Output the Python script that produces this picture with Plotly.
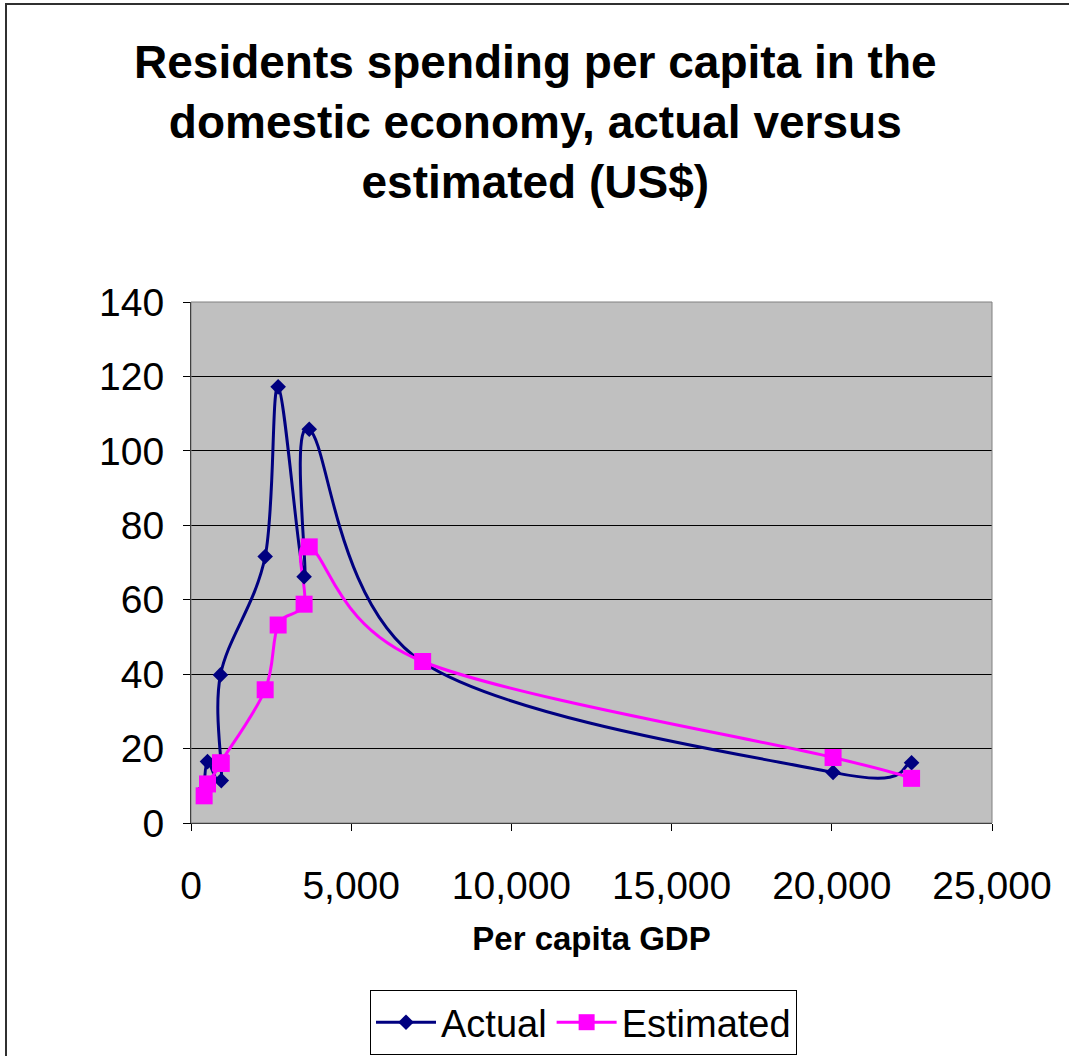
import plotly.graph_objects as go

# Per capita GDP of each economy (US$), shared by both series
gdp = [410, 515, 945, 920, 2315, 2720, 3530, 3690, 7230, 20040, 22490]

# Residents' spending per capita in the domestic economy (US$)
actual = [9.0, 16.5, 11.4, 39.8, 71.6, 117.2, 66.2, 105.8, 43.2, 13.6, 16.2]
estimated = [7.3, 10.5, 16.0, 16.2, 35.8, 53.2, 58.8, 74.2, 43.4, 17.6, 12.0]

x_ticks = [0, 5000, 10000, 15000, 20000, 25000]
y_ticks = [0, 20, 40, 60, 80, 100, 120, 140]

TITLE = "Residents spending per capita in the<br>domestic economy, actual versus<br>estimated (US$)"

FONT = "Arial, Liberation Sans, sans-serif"
NAVY = "#000080"
MAGENTA = "#FF00FF"


def smooth_path(xs, ys):
    """Cubic Bezier path through the points (Catmull-Rom style smoothed line)."""
    pts = list(zip(xs, ys))
    n = len(pts)
    d = f"M {pts[0][0]},{pts[0][1]}"
    for i in range(n - 1):
        p0 = pts[i - 1] if i > 0 else pts[i]
        p1, p2 = pts[i], pts[i + 1]
        p3 = pts[i + 2] if i + 2 < n else pts[i + 1]
        c1 = (p1[0] + (p2[0] - p0[0]) / 6, p1[1] + (p2[1] - p0[1]) / 6)
        c2 = (p2[0] - (p3[0] - p1[0]) / 6, p2[1] - (p3[1] - p1[1]) / 6)
        d += f" C {c1[0]},{c1[1]} {c2[0]},{c2[1]} {p2[0]},{p2[1]}"
    return d


fig = go.Figure()

series = [
    ("Actual", actual, NAVY, "diamond", 12),
    ("Estimated", estimated, MAGENTA, "square", 17),
]

shapes = []
for name, values, color, symbol, size in series:
    shapes.append(dict(type="path", xref="x", yref="y", path=smooth_path(gdp, values),
                       line=dict(color=color, width=3), layer="between"))
    fig.add_trace(go.Scatter(
        x=gdp, y=values, name=name, mode="markers", showlegend=False,
        marker=dict(symbol=symbol, size=size, color=color),
    ))

# legend entries (line with marker)
for name, values, color, symbol, size in series:
    fig.add_trace(go.Scatter(
        x=[None], y=[None], name=name, mode="lines+markers",
        line=dict(color=color, width=3),
        marker=dict(symbol=symbol, size=size, color=color),
    ))

L, R, T, B = 191, 77, 302, 233
W, H = 1069, 1056
pw, ph = W - L - R, H - T - B

def px(x):
    return (x - L) / pw

def py(y):
    return (H - B - y) / ph

shapes += [
    # plot-area frame
    dict(type="rect", xref="paper", yref="paper", x0=0, y0=0, x1=1, y1=1,
         line=dict(color="#808080", width=1), layer="above"),
    # chart-area frame
    dict(type="rect", xref="paper", yref="paper",
         x0=px(6), y0=py(H + 10), x1=px(W + 10), y1=py(4),
         line=dict(color="#303030", width=2)),
]

fig.update_layout(
    width=W, height=H,
    margin=dict(l=L, r=R, t=T, b=B, autoexpand=False),
    paper_bgcolor="white",
    plot_bgcolor="#C0C0C0",
    font=dict(family=FONT, color="black"),
    xaxis=dict(
        range=[0, 25000], tickvals=x_ticks, tickformat=",",
        showgrid=False, zeroline=False, automargin=False,
        showline=True, linecolor="black", linewidth=1,
        ticks="outside", ticklen=7, tickcolor="black",
        ticklabelstandoff=21,
        tickfont=dict(family=FONT, size=39),
        title=dict(text="Per capita GDP", standoff=21,
                   font=dict(family=FONT, size=33, weight="bold")),
    ),
    yaxis=dict(
        range=[0, 140], tickvals=y_ticks,
        showgrid=True, gridcolor="black", gridwidth=1,
        zeroline=False, automargin=False,
        showline=True, linecolor="black", linewidth=1,
        ticks="outside", ticklen=7, tickcolor="black",
        ticklabelstandoff=11,
        tickfont=dict(family=FONT, size=39),
    ),
    legend=dict(
        orientation="h",
        x=px(370), y=py(990), xanchor="left", yanchor="top",
        bordercolor="black", borderwidth=1,
        bgcolor="white",
        font=dict(family=FONT, size=38),
        itemwidth=60,
    ),
    annotations=[
        dict(text=TITLE, xref="paper", yref="paper",
             x=px(535), y=py(122), xanchor="center", yanchor="middle",
             showarrow=False, align="center",
             font=dict(family=FONT, size=46, color="black", weight="bold")),
    ],
    shapes=shapes,
)

fig.write_html("out.html")
